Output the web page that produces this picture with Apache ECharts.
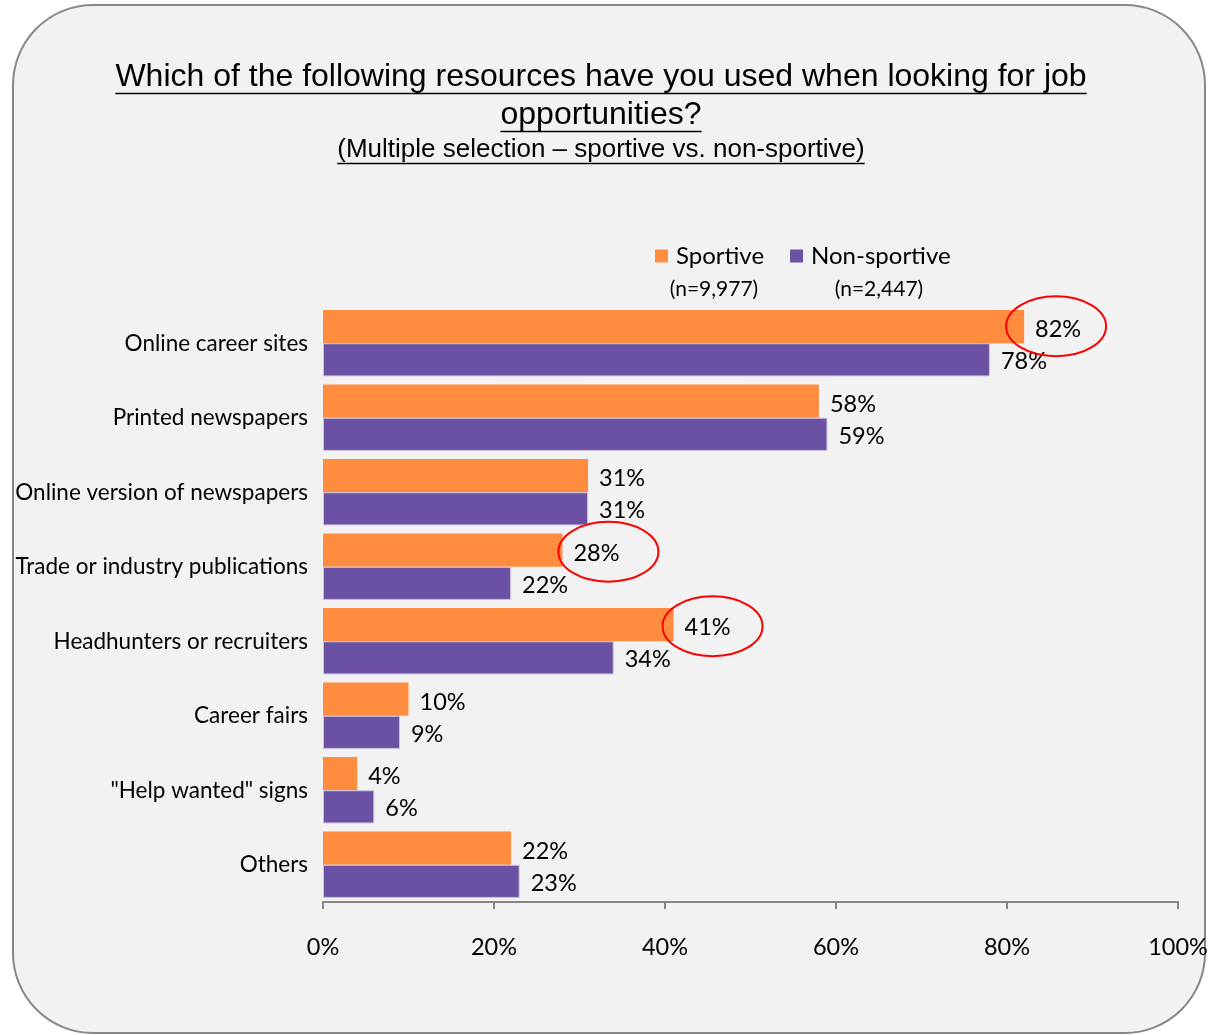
<!DOCTYPE html>
<html><head><meta charset="utf-8">
<script src="https://cdn.jsdelivr.net/npm/echarts@6/dist/echarts.min.js"></script>
<style>html,body{margin:0;padding:0;background:#fff}#c{width:1218px;height:1035px}</style>
</head><body><div id="c"></div>
<script>
// ---- data ----
const categories = [
  'Online career sites',
  'Printed newspapers',
  'Online version of newspapers',
  'Trade or industry publications',
  'Headhunters or recruiters',
  'Career fairs',
  '"Help wanted" signs',
  'Others'
];
const sportive = [82, 58, 31, 28, 41, 10, 4, 22];
const nonSportive = [78, 59, 31, 22, 34, 9, 6, 23];
const seriesNames = ['Sportive', 'Non-sportive'];
const sampleSizes = ['(n=9,977)', '(n=2,447)'];
const titleLines = ['Which of the following resources have you used when looking for job', 'opportunities?'];
const subtitle = '(Multiple selection \u2013 sportive vs. non-sportive)';
const highlighted = ['Online career sites', 'Trade or industry publications', 'Headhunters or recruiters'];

// ---- styling ----
const ORANGE = '#FF8C3F';
const PURPLE = '#6B51A3';
const FONT = 'Lato, "Open Sans", sans-serif';
const TFONT = '"Liberation Sans", Arial, sans-serif';

const chart = echarts.init(document.getElementById('c'), null, {renderer: 'canvas'});

function textWidth(str, font) {
  const t = new echarts.graphic.Text({style: {text: str, font: font}});
  return t.getBoundingRect().width;
}

const cx = 601;
const titleSpecs = [
  {text: titleLines[0], y: 77, size: 32},
  {text: titleLines[1], y: 115, size: 32},
  {text: subtitle, y: 150, size: 26}
];
const graphics = [{
  type: 'rect', z: -10, silent: true,
  shape: {x: 13, y: 5, width: 1192, height: 1028, r: 80},
  style: {fill: '#F2F2F2', stroke: '#888888', lineWidth: 2}
}];
titleSpecs.forEach(s => {
  const font = s.size + 'px ' + TFONT;
  const w = textWidth(s.text, font);
  graphics.push({type: 'text', x: cx, y: s.y, z: 10,
    style: {text: s.text, font: font, fill: '#000', align: 'center', verticalAlign: 'middle'}});
  const uy = s.y + s.size * 0.5 + 0.5;
  graphics.push({type: 'line', z: 10, shape: {x1: cx - w / 2, y1: uy, x2: cx + w / 2, y2: uy},
    style: {stroke: '#000', lineWidth: 1.5}});
});
// sample size under legend
[714, 879].forEach((x, i) => {
  graphics.push({type: 'text', x: x, y: 289, z: 10,
    style: {text: sampleSizes[i], font: '21px ' + FONT, fill: '#000', align: 'center', verticalAlign: 'middle'}});
});

const labelStyle = {
  show: true, position: 'right', distance: 11,
  formatter: p => Math.round(p.value) + '%',
  fontFamily: FONT, fontSize: 23.5, color: '#000'
};

const option = {
  backgroundColor: '#ffffff',
  animation: false,
  legend: {
    data: seriesNames,
    left: 650, top: 239,
    itemWidth: 13, itemHeight: 13, itemGap: 26,
    icon: 'rect',
    itemStyle: {borderWidth: 0},
    textStyle: {fontFamily: FONT, fontSize: 24, color: '#000', padding: [0, 0, 0, 3]}
  },
  grid: {left: 323, right: 40, top: 306, bottom: 133, containLabel: false},
  xAxis: {
    type: 'value', min: 0, max: 100, interval: 20,
    axisLine: {show: true, lineStyle: {color: '#868686', width: 2}},
    axisTick: {show: true, length: 7, lineStyle: {color: '#868686', width: 2}},
    splitLine: {show: false},
    axisLabel: {formatter: '{value}%', margin: 33, fontFamily: FONT, fontSize: 23.5, color: '#000'}
  },
  yAxis: {
    type: 'category', data: categories, inverse: true,
    axisLine: {show: false}, axisTick: {show: false},
    axisLabel: {margin: 15, fontFamily: FONT, fontSize: 22.5, color: '#000'}
  },
  series: [
    {name: seriesNames[0], type: 'bar', data: sportive, barGap: '0%', barCategoryGap: '11%',
      itemStyle: {color: ORANGE}, label: Object.assign({}, labelStyle, {offset: [0, 3]})},
    {name: seriesNames[1], type: 'bar', data: nonSportive, barGap: '0%', barCategoryGap: '11%',
      itemStyle: {color: PURPLE, borderColor: '#C9C2DD', borderWidth: 1}, label: Object.assign({}, labelStyle, {offset: [0, 2]})}
  ],
  graphic: graphics
};
chart.setOption(option);

// red annotation ellipses around selected sportive labels
const annoOffsets = {
  'Online career sites': [32, -17],
  'Trade or industry publications': [46, -15],
  'Headhunters or recruiters': [39, -15]
};
const ellipses = highlighted.map(name => {
  const idx = categories.indexOf(name);
  const p = chart.convertToPixel({gridIndex: 0}, [sportive[idx], name]);
  const o = annoOffsets[name];
  return {type: 'ellipse', z: 100, silent: true,
    shape: {cx: p[0] + o[0], cy: p[1] + o[1], rx: 50, ry: 30},
    style: {fill: null, stroke: '#FF0000', lineWidth: 2}};
});
chart.setOption({graphic: graphics.concat(ellipses)});
</script>
</body></html>
